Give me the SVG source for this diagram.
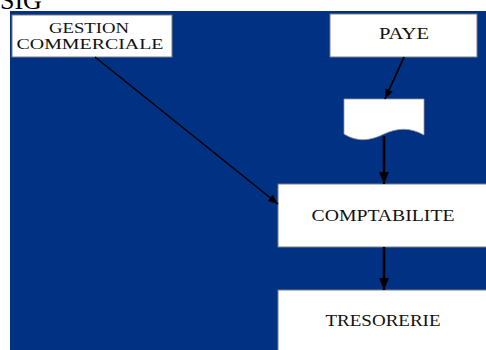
<svg xmlns="http://www.w3.org/2000/svg" width="486" height="350" viewBox="0 0 486 350">
<style>
.box{fill:#ffffff;stroke:#7f7f7f;stroke-width:1}
.lbl{font-family:"Liberation Serif","Times New Roman",serif;font-size:17px;fill:#111111;text-anchor:middle}
.sm{font-size:15px}
.c{stroke:#000;fill:none}
</style>
<defs>
<marker id="ah" markerWidth="10" markerHeight="8" refX="10" refY="4" orient="auto" markerUnits="userSpaceOnUse">
<path d="M0,0 L10,4 L0,8 Z" fill="#000"/>
</marker>
<marker id="ah2" markerWidth="12" markerHeight="10" refX="12" refY="5" orient="auto" markerUnits="userSpaceOnUse">
<path d="M0,0 L12,5 L0,10 Z" fill="#000"/>
</marker>
</defs>
<rect x="0" y="0" width="486" height="350" fill="#ffffff"/>
<rect x="10" y="11" width="476" height="339" fill="#013182"/>
<text x="0" y="9" font-family="Liberation Serif, serif" font-size="26" fill="#000">SIG</text>
<g id="gestion">
<rect class="box" x="12" y="15" width="160" height="42"/>
<text class="lbl sm" x="89" y="33" textLength="80" lengthAdjust="spacingAndGlyphs">GESTION</text>
<text class="lbl sm" x="90" y="49" textLength="147" lengthAdjust="spacingAndGlyphs">COMMERCIALE</text>
</g>
<g id="paye">
<rect class="box" x="330" y="14" width="147" height="43"/>
<text class="lbl" x="404" y="39" textLength="50" lengthAdjust="spacingAndGlyphs">PAYE</text>
</g>
<g id="document">
<path d="M344,99 H424 V135 C410,127 397,128 384,134 C372,140 358,143 344,134 Z" fill="#ffffff" stroke="#9a9a9a" stroke-width="0.8"/>
</g>
<g id="comptabilite">
<rect class="box" x="278" y="184" width="212" height="63"/>
<text class="lbl" x="383" y="221" textLength="143" lengthAdjust="spacingAndGlyphs">COMPTABILITE</text>
</g>
<g id="tresorerie">
<rect class="box" x="278" y="290" width="212" height="65"/>
<text class="lbl" x="383" y="326" textLength="115" lengthAdjust="spacingAndGlyphs">TRESORERIE</text>
</g>
<g id="connectors">
<line class="c" x1="95" y1="57" x2="278" y2="204" stroke-width="1.5" marker-end="url(#ah)"/>
<line class="c" x1="404" y1="57" x2="385" y2="99" stroke-width="1.8" marker-end="url(#ah)"/>
<line class="c" x1="384" y1="136" x2="384" y2="184" stroke-width="2.5" marker-end="url(#ah2)"/>
<line class="c" x1="384" y1="247" x2="384" y2="290" stroke-width="2.5" marker-end="url(#ah2)"/>
</g>
</svg>
